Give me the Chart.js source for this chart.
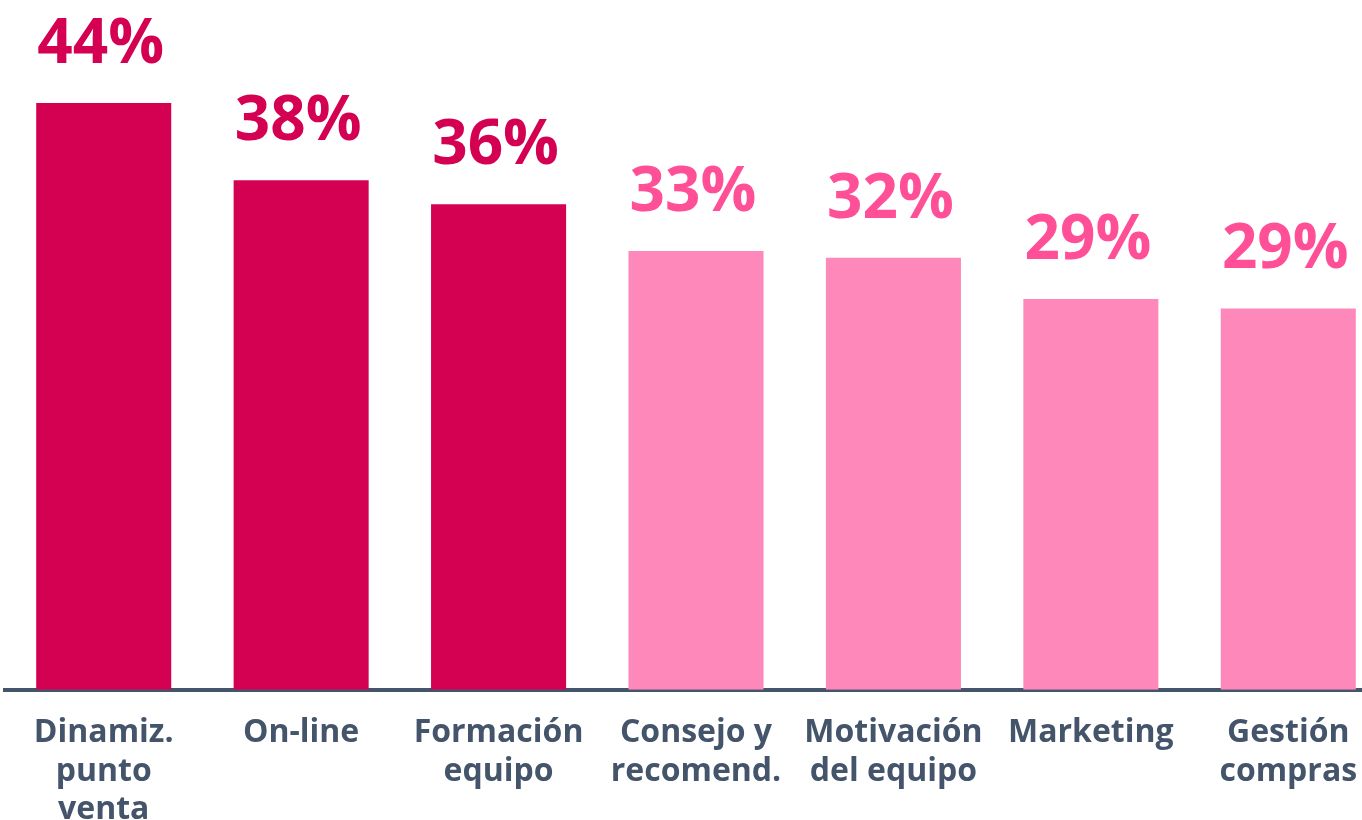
<!DOCTYPE html>
<html>
<head>
<meta charset="utf-8">
<script src="https://cdn.jsdelivr.net/npm/chart.js@4.4.1/dist/chart.umd.min.js"></script>
<style>
  html, body { margin: 0; padding: 0; background: #ffffff; overflow: hidden; }
  #wrap { width: 1390px; height: 853px; position: relative; }
</style>
</head>
<body>
<div id="wrap"><canvas id="chart"></canvas></div>
<script>
var categories = [
    ['Dinamiz.', 'punto', 'venta'],
    ['On-line'],
    ['Formación', 'equipo'],
    ['Consejo y', 'recomend.'],
    ['Motivación', 'del equipo'],
    ['Marketing'],
    ['Gestión', 'compras']
];
var values = [44, 38.2, 36.4, 32.9, 32.4, 29.3, 28.6];
var highlighted = [true, true, true, false, false, false, false];

var DARK = '#d40052', PINK = '#ff88ba', PINK_TEXT = '#ff4f96', SLATE = '#44546a';

// value labels above the bars
var valueLabels = {
    id: 'valueLabels',
    afterDatasetsDraw: function(chart) {
        var ctx = chart.ctx;
        var meta = chart.getDatasetMeta(0);
        ctx.save();
        ctx.font = 'bold 62px "Open Sans"';
        ctx.textAlign = 'center';
        ctx.textBaseline = 'alphabetic';
        meta.data.forEach(function(bar, i) {
            ctx.fillStyle = highlighted[i] ? DARK : PINK_TEXT;
            ctx.fillText(Math.round(values[i]) + '%', bar.x - 3, bar.y - 40);
        });
        ctx.restore();
    }
};

var chart = new Chart(document.getElementById('chart').getContext('2d'), {
    type: 'bar',
    data: {
        labels: categories,
        datasets: [{
            data: values,
            backgroundColor: highlighted.map(function(h) { return h ? DARK : PINK; }),
            borderWidth: 0,
            barPercentage: 0.684,
            categoryPercentage: 1
        }]
    },
    options: {
        responsive: true,
        maintainAspectRatio: false,
        animation: false,
        layout: { padding: { left: 5, right: 3, top: 23, bottom: 0 } },
        plugins: {
            legend: { display: false },
            tooltip: { enabled: false }
        },
        scales: {
            x: {
                grid: { display: false, drawTicks: false },
                border: { display: true, color: SLATE, width: 4 },
                ticks: {
                    color: SLATE,
                    padding: 24,
                    maxRotation: 0,
                    autoSkip: false,
                    font: { family: '"Open Sans"', size: 32, weight: 'bold', lineHeight: 1.2 }
                }
            },
            y: {
                display: false,
                min: 0,
                max: 50
            }
        }
    },
    plugins: [valueLabels]
});
</script>
</body>
</html>
